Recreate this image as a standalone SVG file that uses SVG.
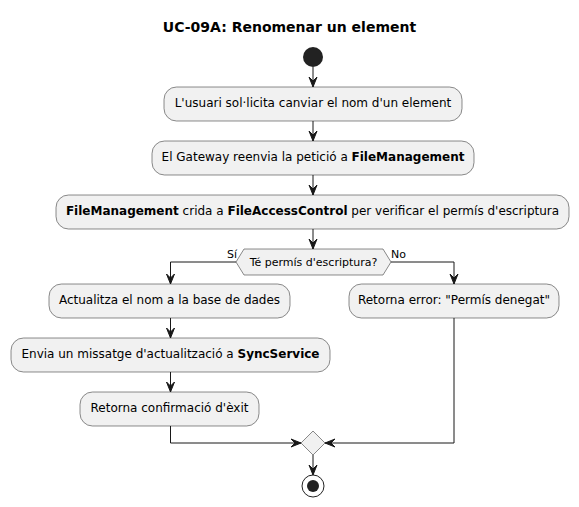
<svg xmlns="http://www.w3.org/2000/svg" width="579" height="507" viewBox="0 0 579 507">
<defs>
<style>
.box{fill:#F1F1F1;stroke:#181818;stroke-width:0.5}
.t{font-family:"DejaVu Sans",sans-serif;font-size:12px;fill:#000;text-anchor:middle}
.s{font-family:"DejaVu Sans",sans-serif;font-size:11px;fill:#000}
.b{font-weight:bold}
.ln{fill:none;stroke:#181818;stroke-width:1}
.ah{fill:#181818;stroke:#181818;stroke-width:1}
</style>
</defs>
<rect width="579" height="507" fill="#FFFFFF"/>
<text x="289.5" y="32" style="font-family:'DejaVu Sans',sans-serif;font-size:14px;font-weight:bold;text-anchor:middle">UC-09A: Renomenar un element</text>

<g id="connectors">
<line class="ln" x1="313" y1="67" x2="313" y2="87"/>
<polygon class="ah" points="309,77 313,87 317,77 313,81"/>
<line class="ln" x1="313" y1="121" x2="313" y2="141"/>
<polygon class="ah" points="309,131 313,141 317,131 313,135"/>
<line class="ln" x1="313" y1="175" x2="313" y2="195"/>
<polygon class="ah" points="309,185 313,195 317,185 313,189"/>
<line class="ln" x1="313" y1="229" x2="313" y2="249"/>
<polygon class="ah" points="309,239 313,249 317,239 313,243"/>
<polyline class="ln" points="236,262 170.5,262 170.5,284"/>
<polygon class="ah" points="166.5,274 170.5,284 174.5,274 170.5,278"/>
<polyline class="ln" points="391,262 454,262 454,284"/>
<polygon class="ah" points="450,274 454,284 458,274 454,278"/>
<line class="ln" x1="170.5" y1="318" x2="170.5" y2="338"/>
<polygon class="ah" points="166.5,328 170.5,338 174.5,328 170.5,332"/>
<line class="ln" x1="170.5" y1="372" x2="170.5" y2="392"/>
<polygon class="ah" points="166.5,382 170.5,392 174.5,382 170.5,386"/>
<polyline class="ln" points="170.5,426 170.5,443 301,443"/>
<polygon class="ah" points="291,439 301,443 291,447 295,443"/>
<polyline class="ln" points="454,318 454,443 325,443"/>
<polygon class="ah" points="335,439 325,443 335,447 331,443"/>
<line class="ln" x1="313" y1="455" x2="313" y2="475"/>
<polygon class="ah" points="309,465 313,475 317,465 313,469"/>
<text class="s" x="227" y="258">Sí</text>
<text class="s" x="391" y="258">No</text>
</g>

<g id="start"><circle cx="313" cy="57" r="10" fill="#222222"/></g>

<g id="n1">
<rect class="box" x="164" y="87" width="298" height="34" rx="12.5"/>
<text class="t" x="313" y="107">L'usuari sol·licita canviar el nom d'un element</text>
</g>
<g id="n2">
<rect class="box" x="152" y="141" width="322" height="34" rx="12.5"/>
<text class="t" x="313" y="161">El Gateway reenvia la petició a <tspan class="b">FileManagement</tspan></text>
</g>
<g id="n3">
<rect class="box" x="56" y="195" width="513" height="34" rx="12.5"/>
<text class="t" x="312.5" y="215"><tspan class="b">FileManagement</tspan> crida a <tspan class="b">FileAccessControl</tspan> per verificar el permís d'escriptura</text>
</g>
<g id="decision">
<polygon class="box" points="236,262 244,249 383,249 391,262 383,275 244,275"/>
<text class="s" x="313.5" y="266" text-anchor="middle">Té permís d'escriptura?</text>
</g>
<g id="n4">
<rect class="box" x="49" y="284" width="241" height="34" rx="12.5"/>
<text class="t" x="169.5" y="304">Actualitza el nom a la base de dades</text>
</g>
<g id="n5">
<rect class="box" x="349" y="284" width="210" height="34" rx="12.5"/>
<text class="t" x="454" y="304">Retorna error: "Permís denegat"</text>
</g>
<g id="n6">
<rect class="box" x="11" y="338" width="319" height="34" rx="12.5"/>
<text class="t" x="170.5" y="358">Envia un missatge d'actualització a <tspan class="b">SyncService</tspan></text>
</g>
<g id="n7">
<rect class="box" x="80" y="392" width="179" height="34" rx="12.5"/>
<text class="t" x="169.5" y="412">Retorna confirmació d'èxit</text>
</g>
<g id="merge">
<polygon class="box" points="301,443 313,431 325,443 313,455"/>
</g>
<g id="end">
<circle cx="313" cy="486" r="11" fill="none" stroke="#222222" stroke-width="1"/>
<circle cx="313" cy="486" r="6" fill="#222222"/>
</g>
</svg>
